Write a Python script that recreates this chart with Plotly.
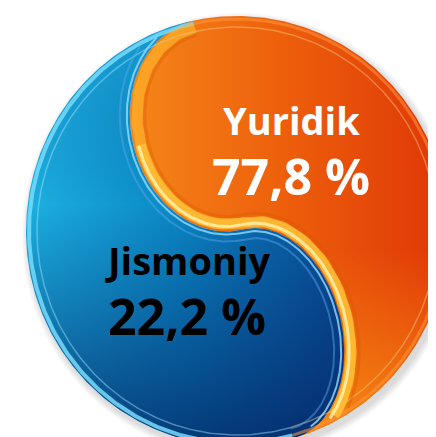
import numpy as np
import plotly.graph_objects as go

# ---- data ----
labels = ["Yuridik", "Jismoniy"]
shares = [77.8, 22.2]

# ---- layout / geometry parameters (decorative disc in pixel space) ----
W, H = 436, 437
cx, cy, rx, ry = 229, 223, 211, 215
top_x, bot_x = 185, 285          # where the S divider meets the rim
b_upper, b_lower = 87, 74        # bulge of the two S lobes

label_pos = {"Yuridik": (283, 112, 168), "Jismoniy": (179, 252, 308)}
label_col = {"Yuridik": "white", "Jismoniy": "black"}


def ell(theta, dr=0.0):
    return np.column_stack([cx + (rx - dr) * np.sin(theta), cy - (ry - dr) * np.cos(theta)])


def inside(pts, m=5):
    r = ((pts[:, 0] - cx) / (rx - m)) ** 2 + ((pts[:, 1] - cy) / (ry - m)) ** 2
    return pts[r < 1]


th_T = np.arcsin((top_x - cx) / rx)
th_B = np.pi - np.arcsin((bot_x - cx) / rx)
T = ell(np.array([th_T]))[0]
B = ell(np.array([th_B]))[0]
L = np.linalg.norm(B - T)
d = (B - T) / L
n = np.array([-d[1], d[0]])

t = np.linspace(0, np.pi, 120)
upper = T + np.outer(L / 4 * (1 - np.cos(t)), d) + np.outer(b_upper * np.sin(t), n)
lower = T + np.outer(L / 2 + L / 4 * (1 - np.cos(t)), d) - np.outer(b_lower * np.sin(t), n)
S = np.vstack([upper, lower[1:]])

rim_or = ell(np.linspace(th_B, th_T, 200))
rim_bl = ell(np.linspace(th_B, th_T + 2 * np.pi, 200))
orange_poly = np.vstack([S, rim_or])
blue_poly = np.vstack([S, rim_bl])

# normals of the S, pointing into the orange part
tang = np.gradient(S, axis=0)
tang /= np.linalg.norm(tang, axis=1)[:, None]
nor = np.column_stack([tang[:, 1], -tang[:, 0]])


def off(k, start=0):
    return inside((S + nor * k)[start:])


fig = go.Figure()


def poly(pts, **kw):
    fig.add_trace(go.Scatter(x=pts[:, 0], y=pts[:, 1], mode="lines", fill="toself",
                             line=dict(width=0), hoverinfo="skip", **kw))


def line(pts, color, width):
    fig.add_trace(go.Scatter(x=pts[:, 0], y=pts[:, 1], mode="lines",
                             line=dict(color=color, width=width),
                             hoverinfo="skip"))


# soft shadow
full = np.linspace(0, 2 * np.pi, 240)
for k in range(1, 7):
    sh = np.column_stack([cx + 3 + (rx + 1.2 * k) * np.sin(full), cy + 4 - (ry + 1.2 * k) * np.cos(full)])
    poly(sh, fillcolor="rgba(0,0,0,0.025)")

# orange part
poly(orange_poly, fillgradient=dict(type="horizontal", start=120, stop=440,
                                    colorscale=[[0, "#f5861a"], [0.45, "#ee620c"], [1, "#df3606"]]))
poly(orange_poly, fillgradient=dict(type="vertical", start=0, stop=437,
                                    colorscale=[[0, "rgba(248,140,20,0)"], [0.55, "rgba(248,140,20,0)"],
                                                [1, "rgba(250,150,20,0.85)"]]))
# blue part
poly(blue_poly, fillgradient=dict(type="horizontal", start=20, stop=340,
                                  colorscale=[[0, "#1cb0e0"], [0.5, "#0a84c2"], [1, "#0a4a94"]]))
poly(blue_poly, fillgradient=dict(type="vertical", start=0, stop=437,
                                  colorscale=[[0, "rgba(40,200,240,0.35)"], [0.45, "rgba(4,40,110,0)"],
                                              [1, "rgba(3,32,95,0.75)"]]))

# outer rim highlights
line(ell(np.linspace(th_B, th_T + 2 * np.pi, 200), 3), "rgba(120,220,250,0.85)", 4)
line(inside(ell(np.linspace(th_B, th_T + 2 * np.pi, 200), 11), 10), "rgba(160,230,255,0.45)", 1.5)
line(ell(np.linspace(th_B, th_T, 200), 3), "rgba(255,150,60,0.55)", 3)
line(inside(ell(np.linspace(th_B, th_T, 200), 11), 10), "rgba(255,200,130,0.45)", 1.5)

# S bevel
line(off(-3), "rgba(150,220,255,0.8)", 2)
line(off(-10), "rgba(90,170,235,0.45)", 2)
line(off(15), "rgba(215,90,0,0.35)", 3)
line(off(7), "rgba(255,185,45,0.6)", 11)
line(off(7, 60), "rgba(255,200,60,0.65)", 10)
line(off(5, 60), "rgba(255,240,170,0.85)", 3)

# labels
for lab, val in zip(labels, shares):
    x, y1, y2 = label_pos[lab]
    txt = f"{val:.1f}".replace(".", ",") + " %"
    fig.add_annotation(x=x, y=y1, text=lab, showarrow=False, xanchor="center", yanchor="middle",
                       font=dict(family="Open Sans", size=38, weight="bold", color=label_col[lab]))
    fig.add_annotation(x=x, y=y2, text=txt, showarrow=False, xanchor="center", yanchor="middle",
                       font=dict(family="Open Sans", size=50, weight="bold", color=label_col[lab]))

fig.update_layout(width=W, height=H, margin=dict(l=0, r=0, t=0, b=0),
                  paper_bgcolor="white", plot_bgcolor="white", showlegend=False,
                  xaxis=dict(range=[0, W], visible=False, fixedrange=True),
                  yaxis=dict(range=[H, 0], visible=False, fixedrange=True))
fig.write_html("out.html", config={"displayModeBar": False})
